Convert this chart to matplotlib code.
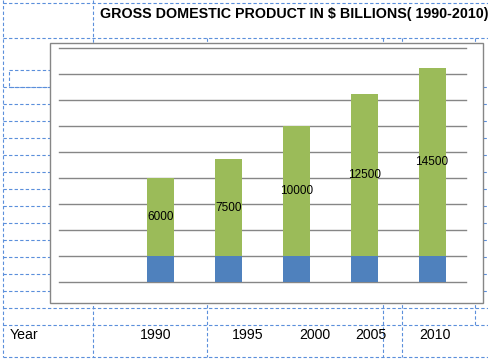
import numpy as np
import matplotlib.pyplot as plt
from matplotlib.patches import Rectangle

years = [1990, 1995, 2000, 2005, 2010]
gdp = [6000, 7500, 10000, 12500, 14500]
title = 'GROSS DOMESTIC PRODUCT IN $ BILLIONS( 1990-2010)'

blue = '#4f81bd'
green = '#9bbb59'
cell = '#5b8fdb'
grey = '#868686'

fig = plt.figure(figsize=(4.88, 3.62), dpi=100)
bg = fig.add_axes([0, 0, 1, 1])
bg.set_xlim(0, 488)
bg.set_ylim(362, 0)
bg.axis('off')

dash = dict(color=cell, lw=0.8, ls=(0, (3, 2)), zorder=1)

# sheet cell borders
bg.plot([3.3, 488], [3.3, 3.3], **dash)
bg.plot([3.3, 488], [37.7, 37.7], **dash)
for y in [308.3, 325.3, 357]:
	bg.plot([3.3, 488], [y, y], **dash)
for y in np.arange(87.3, 292, 17):
	bg.plot([3.3, 50], [y, y], **dash)
	bg.plot([483, 488], [y, y], **dash)
bg.plot([3.3, 3.3], [0, 357], **dash)
bg.plot([93.3, 93.3], [0, 357], **dash)
for x in [206.7, 383.3, 401.7]:
	bg.plot([x, x], [37.7, 357], **dash)
bg.plot([475.3, 475.3], [37.7, 325.3], **dash)
bg.plot([9.3, 50, 50, 9.3, 9.3], [70, 70, 86.7, 86.7, 70], **dash)

# chart area
bg.add_patch(Rectangle((50, 43.3), 432.5, 260, fc='white', ec=grey, lw=1, zorder=3))

bg.text(100, 18.3, title, fontsize=10.3, fontweight='bold', family='Liberation Sans', va='baseline', zorder=4)
bg.text(10, 339.3, 'Year', fontsize=10.2, family='Liberation Sans', va='baseline', zorder=4)
year_x = [156, 248, 314.5, 355.3, 435.3]
for i, (x, yr) in enumerate(zip(year_x, years)):
	if i == 3:
		t = bg.text(x, 339.3, str(yr), fontsize=10.2, family='Liberation Sans', va='baseline', ha='left', zorder=4)
		clip = Rectangle((340, 310), 43.3, 40, transform=bg.transData)
		t.set_clip_path(clip)
	else:
		bg.text(x, 339.3, str(yr), fontsize=10.2, family='Liberation Sans', va='baseline', ha='center', zorder=4)

# plot area
ax = fig.add_axes([59 / 488, (362 - 282.3) / 362, 407 / 488, 234 / 362])
ax.set_facecolor('none')
ax.set_xlim(-0.5, 5.5)
ax.set_ylim(0, 18000)
for v in range(0, 18001, 2000):
	ax.axhline(v, color=grey, lw=1, clip_on=False, zorder=0)
for s in ax.spines.values():
	s.set_visible(False)
ax.set_xticks([])
ax.set_yticks([])

pos = np.arange(1, 6)
ax.bar(pos, years, width=0.4, color=blue, zorder=2)
bars = ax.bar(pos, gdp, width=0.4, bottom=years, color=green, zorder=2)
ax.bar_label(bars, labels=[str(g) for g in gdp], label_type='center', fontsize=8.5, family='Liberation Sans')

fig.savefig('out.png', dpi=100)
